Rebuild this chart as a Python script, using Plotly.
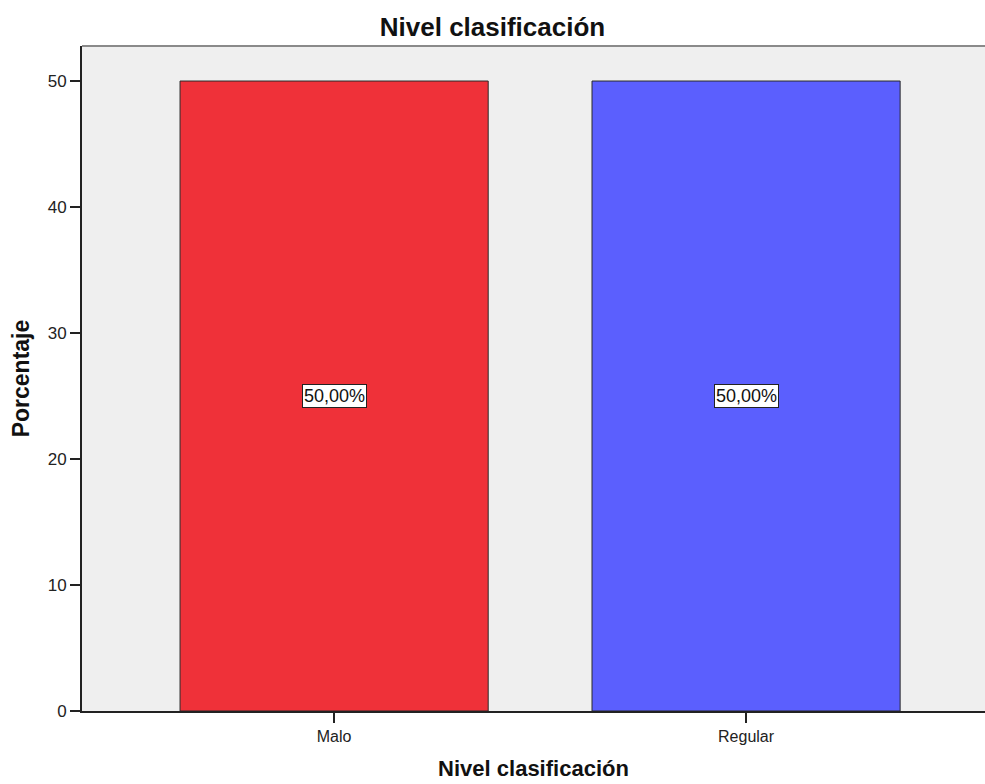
import plotly.graph_objects as go

categories = ["Malo", "Regular"]
percentages = [50.0, 50.0]
bar_colors = ["#EF3139", "#5B5FFE"]
y_ticks = [0, 10, 20, 30, 40, 50]

FONT = "Arial, Liberation Sans, sans-serif"

fig = go.Figure()
fig.add_trace(go.Bar(
    x=list(range(len(categories))),
    y=percentages,
    width=0.748,
    marker=dict(color=bar_colors, line=dict(color="#2a2a2a", width=1)),
    hoverinfo="skip",
))

# Value labels centred vertically in each bar
for i, v in enumerate(percentages):
    fig.add_annotation(
        x=i, y=v / 2, xref="x", yref="y",
        text=f"{v:.2f}%".replace(".", ","),
        showarrow=False,
        bgcolor="white", bordercolor="#222", borderwidth=1, borderpad=1,
        font=dict(family=FONT, size=18, color="#111"),
    )

# Grey frame line along the top of the plot area
fig.add_shape(type="line", xref="paper", yref="paper", x0=0, x1=1, y0=1, y1=1,
              line=dict(color="#8a8a8a", width=2))

fig.update_layout(
    width=985, height=784,
    margin=dict(l=82, r=0, t=46, b=73),
    paper_bgcolor="white",
    plot_bgcolor="#EFEFEF",
    showlegend=False,
    title=dict(text="<b>Nivel clasificación</b>", x=0.5, xanchor="center",
               y=1 - 27 / 784, yanchor="middle",
               font=dict(family=FONT, size=26, color="#111")),
    font=dict(family=FONT, size=16, color="#222"),
)
fig.update_xaxes(
    range=[-0.612, 1.58],
    tickmode="array", tickvals=list(range(len(categories))), ticktext=categories,
    ticks="outside", ticklen=10, tickcolor="#222", tickwidth=2,
    showline=True, linecolor="#222", linewidth=2,
    showgrid=False, zeroline=False,
    tickfont=dict(size=16),
    title=dict(text="<b>Nivel clasificación</b>", standoff=16,
               font=dict(size=22, color="#111")),
)
fig.update_yaxes(
    range=[0, 52.78],
    tickmode="array", tickvals=y_ticks,
    ticks="outside", ticklen=10, tickcolor="#222", tickwidth=2,
    showline=True, linecolor="#222", linewidth=2,
    showgrid=False, zeroline=False,
    tickfont=dict(size=17),
    title=dict(text="<b>Porcentaje</b>", standoff=12,
               font=dict(size=23, color="#111")),
)

fig.write_html("out.html")
